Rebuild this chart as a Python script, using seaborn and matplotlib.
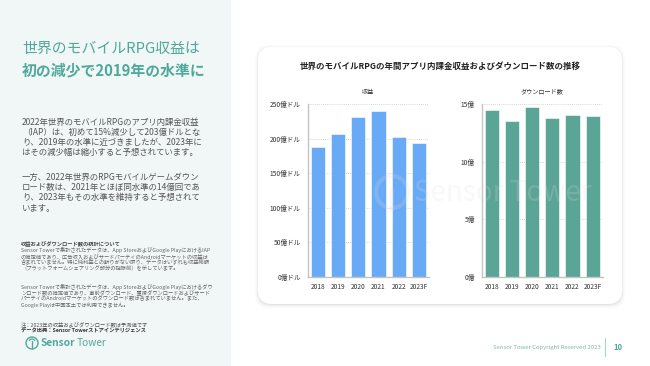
import numpy as np
import pandas as pd
import matplotlib
matplotlib.use("Agg")
import matplotlib.pyplot as plt
from matplotlib.patches import FancyBboxPatch, Rectangle, Circle, Arc
import seaborn as sns

# データ
years = ["2018", "2019", "2020", "2021", "2022", "2023F"]
revenue = [188, 206, 231, 240, 203, 194]          # 億ドル
downloads = [14.5, 13.5, 14.75, 13.75, 14.05, 13.95]  # 億
rev_ticks = [0, 50, 100, 150, 200, 250]
rev_tick_labels = ["0億ドル", "50億ドル", "100億ドル", "150億ドル", "200億ドル", "250億ドル"]
dl_ticks = [0, 5, 10, 15]
dl_tick_labels = ["0億", "5億", "10億", "15億"]

sns.set_style("white")
plt.rcParams["font.family"] = ["Noto Sans CJK JP", "DejaVu Sans"]

W, H = 650, 366
fig = plt.figure(figsize=(W / 100, H / 100), dpi=100)
fig.patch.set_facecolor("white")

# 背景用の軸（ピクセル座標）
bg = fig.add_axes([0, 0, 1, 1], zorder=0)
bg.set_xlim(0, W)
bg.set_ylim(H, 0)
bg.axis("off")

teal = "#4fa99a"
bg.add_patch(Rectangle((0, 0), 231, H, color="#f1f6f6", lw=0))

# カードの影
for i, a in enumerate([0.015, 0.02, 0.03, 0.04]):
    g = 4 - i
    bg.add_patch(FancyBboxPatch((258 - g + 1, 47 - g + 2), 364 + 2 * g - 2, 257 + 2 * g - 2,
                                boxstyle="round,pad=0,rounding_size=14",
                                fc="black", ec="none", alpha=a))
bg.add_patch(FancyBboxPatch((258, 47), 364, 257, boxstyle="round,pad=0,rounding_size=14",
                            fc="white", ec="none"))

# 左側テキスト
bg.text(22, 49, "世界のモバイルRPG収益は", fontsize=10.7, color=teal, va="center")
bg.text(22, 70, "初の減少で2019年の水準に", fontsize=10.7, color=teal, va="center",
        fontweight="bold")

body1 = ["2022年世界のモバイルRPGのアプリ内課金収益",
         "（IAP）は、初めて15%減少して203億ドルとな",
         "り、2019年の水準に近づきましたが、2023年に",
         "はその減少幅は縮小すると予想されています。"]
body2 = ["一方、2022年世界のRPGモバイルゲームダウン",
         "ロード数は、2021年とほぼ同水準の14億回であ",
         "り、2023年もその水準を維持すると予想されて",
         "います。"]
for i, s in enumerate(body1):
    bg.text(22, 122 + i * 10.2, s, fontsize=6.05, color="#555555", va="center")
for i, s in enumerate(body2):
    bg.text(22, 177.5 + i * 10.2, s, fontsize=6.05, color="#555555", va="center")

notes1 = ["Sensor Towerで集計されたデータは、App StoreおよびGoogle PlayにおけるIAP",
          "の推定値であり、広告収入およびサードパーティのAndroidマーケットの収益は",
          "含まれていません。特に純利益との断りがない限り、データはいずれも収益総額",
          "（プラットフォームシェアリング部分の控除前）を示しています。"]
notes2 = ["Sensor Towerで集計されたデータは、App StoreおよびGoogle Playにおけるダウ",
          "ンロード数の推定値であり、事前ダウンロード、重複ダウンロードおよびサード",
          "パーティのAndroidマーケットのダウンロード数は含まれていません。また、",
          "Google Playは中国本土では利用できません。"]
bg.text(21, 244, "収益およびダウンロード数の統計について", fontsize=3.8, color="#444444",
        va="center", fontweight="bold")
for i, s in enumerate(notes1):
    bg.text(21, 250 + i * 6, s, fontsize=3.8, color="#666666", va="center")
for i, s in enumerate(notes2):
    bg.text(21, 286.7 + i * 6, s, fontsize=3.8, color="#666666", va="center")
bg.text(21, 324.3, "注：2023年の収益およびダウンロード数は予測値です", fontsize=3.8,
        color="#555555", va="center")
bg.text(21, 331, "データ出典：Sensor Towerストアインテリジェンス", fontsize=3.8,
        color="#333333", va="center", fontweight="bold")

# ロゴ
bg.add_patch(Circle((32, 343), 6, fill=False, ec=teal, lw=1.0))
bg.add_patch(Arc((32, 342), 6, 6, theta1=200, theta2=340, ec=teal, lw=0.9))
bg.plot([32, 32], [341, 348], color=teal, lw=1.0)
bg.text(41, 343, "Sensor", fontsize=7.3, color=teal, va="center", fontweight="bold")
bg.text(76.5, 343, "Tower", fontsize=7.3, color=teal, va="center")

# カードタイトル
bg.text(440, 66.5, "世界のモバイルRPGの年間アプリ内課金収益およびダウンロード数の推移",
        fontsize=6.1, color="#222222", ha="center", va="center", fontweight="bold")
bg.text(368, 91.5, "収益", fontsize=4.4, color="#333333", ha="center", va="center")
bg.text(542, 91.5, "ダウンロード数", fontsize=4.4, color="#333333", ha="center", va="center")

# フッター
bg.text(547, 347, "Sensor Tower Copyright Reserved 2023", fontsize=4.3, color="#7fb8ad",
        ha="center", va="center")
bg.plot([605, 605], [338, 356], color="#a9d2ca", lw=0.8)
bg.text(618, 347, "10", fontsize=5.5, color=teal, ha="center", va="center", fontweight="bold")


def style_axis(ax, ticks, labels, top):
    ax.set_ylim(0, top)
    ax.set_xlim(-0.5, 5.5)
    ax.set_yticks(ticks)
    ax.set_yticklabels(labels)
    ax.set_xlabel("")
    ax.set_ylabel("")
    ax.tick_params(axis="both", length=0, labelsize=4.8, colors="#333333")
    ax.tick_params(axis="y", pad=5)
    ax.tick_params(axis="x", pad=4)
    ax.yaxis.grid(True, linestyle=(0, (1, 1.5)), color="#c8c8c8", lw=0.6)
    ax.set_axisbelow(True)
    for s in ["top", "right"]:
        ax.spines[s].set_visible(False)
    for s in ["left", "bottom"]:
        ax.spines[s].set_color("#c4c4c4")
        ax.spines[s].set_linewidth(1.0)
    ax.set_facecolor("none")


df = pd.DataFrame({"year": years, "revenue": revenue, "downloads": downloads})

ax1 = fig.add_axes([307.7 / W, (H - 277) / H, 121.3 / W, 173 / H], zorder=1)
sns.barplot(data=df, x="year", y="revenue", color="#69aaf7", saturation=1, width=0.7,
            ax=ax1, edgecolor="white", linewidth=0.4)
style_axis(ax1, rev_ticks, rev_tick_labels, 250)

ax2 = fig.add_axes([481.7 / W, (H - 277) / H, 121 / W, 173 / H], zorder=1)
sns.barplot(data=df, x="year", y="downloads", color="#5ba596", saturation=1, width=0.7,
            ax=ax2, edgecolor="white", linewidth=0.4)
style_axis(ax2, dl_ticks, dl_tick_labels, 15)

# 透かし
top = fig.add_axes([0, 0, 1, 1], zorder=5)
top.set_xlim(0, W)
top.set_ylim(H, 0)
top.axis("off")
top.add_patch(Circle((392, 192), 16, fill=False, ec="#dddddd", lw=3, alpha=0.2))
top.plot([392, 392], [190, 210], color="#dddddd", lw=3, alpha=0.2)
top.text(414, 193, "Sensor Tower", fontsize=20, color="#dddddd", alpha=0.2, va="center")

fig.savefig("out.png", dpi=100)
